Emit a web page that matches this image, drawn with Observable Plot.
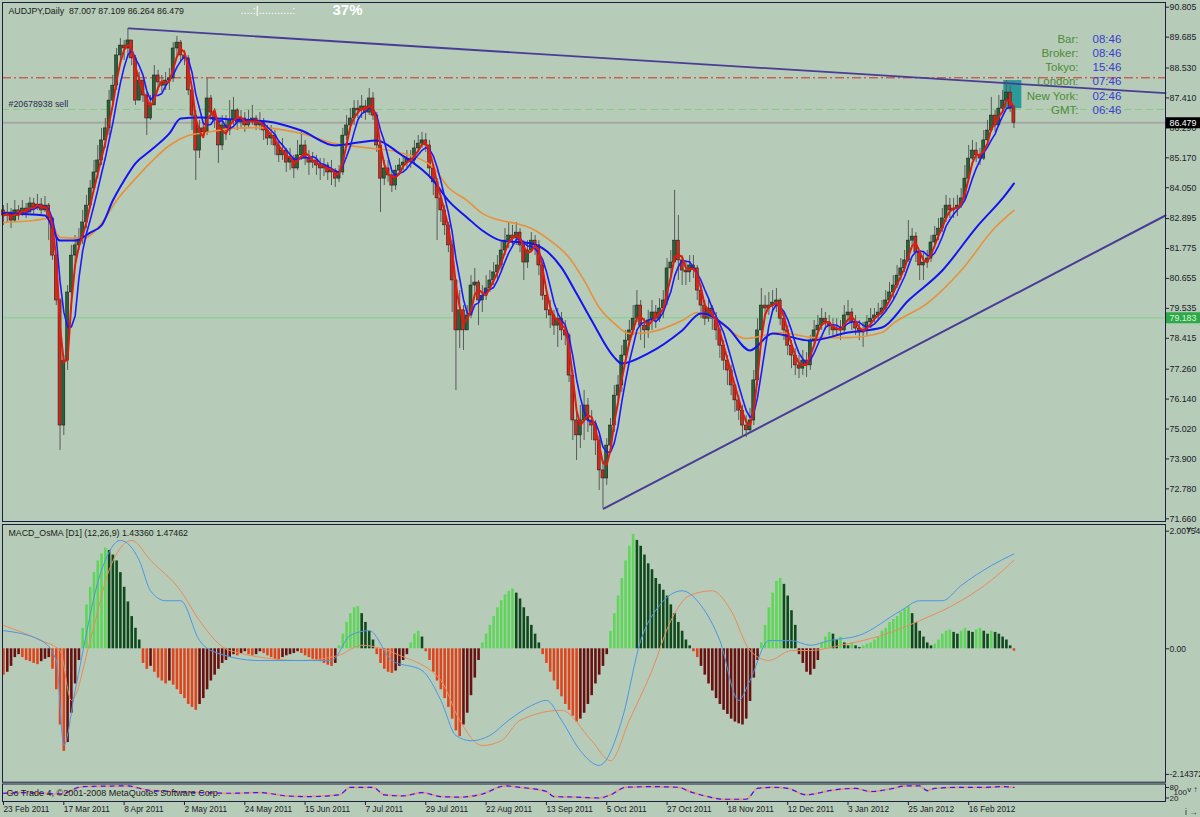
<!DOCTYPE html>
<html><head><meta charset="utf-8">
<script src="https://cdn.jsdelivr.net/npm/d3@7"></script>
<script src="https://cdn.jsdelivr.net/npm/@observablehq/plot@0.6"></script>
<style>
body{margin:0;background:#b6ccb8;}
#wrap{position:relative;width:1200px;height:817px;overflow:hidden;background:#b6ccb8;font-family:"Liberation Sans",Arial,sans-serif;}
#wrap svg{position:absolute;left:0;overflow:visible;}
</style></head><body><div id="wrap"></div>
<script>
// ---------- DATA ----------
const symbolTitle = "AUDJPY,Daily  87.007 87.109 86.264 86.479";
const progressDots = "....:|...........:";
const progressPct = "37%";
const firstOpen = 83.20;
const closes = [
83.01,83.12,82.82,83.20,83.05,83.27,83.12,83.46,83.31,83.42,
83.20,83.38,82.90,81.51,79.83,75.15,77.58,80.13,81.51,81.89,
82.15,82.75,83.38,84.02,84.62,85.07,85.82,86.27,87.31,87.87,
89.00,89.37,89.26,89.56,88.89,87.31,88.06,87.50,86.64,87.13,
88.25,87.99,87.87,88.06,88.14,89.26,89.48,89.00,88.89,87.69,
86.75,85.44,86.27,86.12,87.39,86.86,86.57,85.63,86.38,86.19,
86.57,86.94,86.49,86.64,86.38,86.57,86.64,86.38,86.49,86.19,
85.89,86.00,85.63,85.26,85.44,84.99,85.14,84.77,85.26,85.63,
85.14,84.99,85.07,84.88,84.77,84.88,84.62,84.69,84.39,84.62,
86.00,86.38,86.64,87.01,86.94,87.09,86.86,87.39,86.75,85.63,
84.39,84.77,84.51,84.13,84.69,84.88,84.99,85.14,85.07,85.52,
85.70,85.82,85.63,84.77,84.25,83.65,83.20,82.64,81.89,80.58,
78.71,79.46,78.71,79.27,80.39,80.50,79.83,80.01,80.28,80.58,
80.88,81.14,81.70,82.07,82.26,82.15,82.37,81.89,81.25,81.70,
82.07,81.89,81.14,80.01,79.46,79.27,78.89,79.15,78.71,78.52,
77.02,75.34,74.78,75.34,75.90,75.34,75.15,74.59,73.47,73.17,
74.40,75.15,76.27,76.65,77.77,78.33,78.71,79.15,79.64,78.89,
78.71,79.08,79.38,79.15,79.53,79.83,81.03,81.25,82.07,81.33,
80.95,80.88,81.14,81.03,80.20,79.64,79.15,79.53,79.15,78.71,
78.14,77.58,77.21,76.65,76.09,75.71,75.15,74.97,75.34,76.84,
78.71,79.64,79.53,79.64,79.75,79.83,79.15,78.71,78.14,77.77,
77.40,77.28,77.58,77.40,78.33,78.71,78.89,79.15,79.01,78.86,
78.71,78.78,78.71,79.27,79.38,79.01,78.78,78.63,78.71,79.01,
79.15,79.27,79.38,79.53,79.83,80.13,80.39,80.76,81.03,81.33,
82.07,82.22,81.62,81.14,81.25,81.40,82.00,82.26,82.52,82.90,
83.38,83.20,83.27,83.38,83.65,84.39,85.14,85.44,85.26,85.14,
85.82,86.19,86.75,86.38,87.01,87.31,87.61,87.007,86.479];
const highs = [
83.38,83.46,83.27,83.57,83.38,83.57,83.46,83.68,83.65,83.80,
83.65,83.72,83.46,82.90,81.51,79.90,77.77,80.39,81.89,82.26,
82.52,83.20,83.76,84.32,85.07,85.63,86.27,86.64,87.69,88.25,
89.26,89.63,89.56,90.01,89.48,89.00,88.36,88.06,87.61,87.50,
88.62,88.44,88.25,88.36,88.51,89.48,89.71,89.56,89.19,89.00,
87.76,86.94,86.57,86.49,88.14,87.50,87.01,86.38,86.75,86.75,
87.31,87.43,87.01,86.94,86.86,86.94,87.13,86.75,86.86,86.64,
86.38,86.38,86.19,85.82,85.89,85.52,85.52,85.26,85.82,86.12,
85.82,85.44,85.37,85.26,85.14,85.14,84.99,85.07,84.77,84.88,
86.27,86.75,87.01,87.31,87.31,87.50,87.31,87.76,87.61,86.86,
85.82,85.07,85.07,84.69,84.88,85.14,85.26,85.44,85.44,85.82,
86.00,86.12,86.08,85.82,84.88,84.39,83.76,83.38,82.75,82.07,
80.58,80.20,79.64,79.64,80.76,81.03,80.58,80.39,80.76,80.95,
81.25,81.51,82.07,82.52,82.75,82.64,82.75,82.52,82.07,82.07,
82.37,82.26,82.07,81.25,80.20,79.83,79.46,79.53,79.38,79.08,
78.59,77.21,75.71,75.90,76.46,76.16,75.71,75.34,74.78,73.84,
74.66,75.41,76.65,77.02,78.14,78.71,79.08,79.64,80.20,79.83,
79.15,79.46,79.83,79.64,79.90,80.20,81.40,81.70,83.95,83.01,
81.51,81.33,81.51,81.51,81.14,80.39,79.83,79.90,79.64,79.38,
78.78,78.33,77.77,77.40,76.65,76.27,75.90,75.52,75.79,77.21,
79.15,80.28,80.01,80.13,80.20,80.28,79.90,79.38,78.89,78.33,
78.03,77.77,77.96,77.88,78.52,79.08,79.27,79.53,79.38,79.27,
79.15,79.15,79.08,79.64,79.83,79.53,79.27,79.08,79.01,79.27,
79.53,79.53,79.72,79.83,80.20,80.50,80.76,81.14,81.40,81.70,
82.82,82.52,82.37,81.70,81.62,81.70,82.26,82.60,82.90,83.27,
83.76,83.65,83.65,83.76,84.02,84.88,85.63,85.82,85.74,85.52,
86.19,86.57,87.43,86.94,87.50,87.69,88.06,87.87,87.109];
const lows = [
82.64,82.75,82.52,82.75,82.82,82.97,82.90,83.12,83.05,83.20,
83.05,83.12,82.07,81.33,79.64,74.22,74.78,77.21,79.83,81.25,
81.70,81.92,82.52,83.27,83.95,84.39,84.88,85.52,86.00,87.13,
87.69,88.74,88.81,88.89,88.62,87.13,87.31,87.24,86.00,86.57,
87.13,87.69,87.61,87.69,87.69,87.99,89.00,88.74,88.62,87.50,
86.19,84.32,85.14,85.89,86.00,86.57,86.27,84.96,85.44,85.82,
86.00,86.38,86.19,86.27,86.12,86.27,86.38,86.19,86.19,85.82,
85.63,85.63,85.26,84.99,85.07,84.62,84.69,84.39,84.69,85.07,
84.88,84.51,84.77,84.51,84.32,84.47,84.32,84.13,84.06,84.25,
84.51,85.82,86.19,86.38,86.64,86.64,86.57,86.75,86.57,85.37,
83.12,84.13,84.25,83.87,83.95,84.51,84.69,84.77,84.77,84.88,
85.37,85.52,85.37,84.39,83.76,82.07,82.75,82.26,81.62,79.38,
76.46,78.03,77.96,78.78,79.15,80.01,78.89,79.38,79.83,80.13,
80.39,80.58,80.95,81.51,81.77,81.89,81.89,81.62,80.58,81.03,
81.70,81.51,80.76,79.83,79.15,78.78,78.52,78.07,78.33,78.14,
76.76,74.59,73.84,74.29,74.59,74.89,74.59,74.03,72.72,72.04,
72.91,74.22,74.89,76.09,76.39,77.58,78.14,78.52,79.01,78.33,
78.03,78.41,78.71,78.78,79.01,79.15,79.64,80.76,81.25,80.58,
80.39,80.39,80.50,80.65,79.83,79.15,78.89,79.01,78.71,78.33,
77.66,77.21,76.65,76.27,75.64,75.34,74.70,74.70,74.89,75.15,
76.65,78.52,79.27,79.27,79.38,79.38,78.89,78.33,77.77,77.28,
77.02,76.91,77.02,76.95,77.21,78.14,78.52,78.71,78.71,78.52,
78.41,78.48,78.33,78.63,79.01,78.71,78.52,78.33,78.07,78.52,
78.78,79.01,79.08,79.23,79.38,79.75,79.90,80.28,80.58,80.88,
81.25,81.89,81.25,80.58,80.58,81.03,81.25,81.89,82.07,82.37,
82.75,82.90,82.90,82.97,83.27,83.57,84.32,85.07,84.99,84.88,
85.07,85.63,86.12,86.12,86.38,86.86,87.24,86.86,86.264];

// slow moving averages (bar index, price)
const slowBlueBars = [0,11,15,19,23,26,29,32,35,39,44,47,52,61,70,79,88,94,99,105,114,118,123,127,132,140,148,152,156,162,164,171,180,185,192,198,204,214,224,233,240,249,258,266,268];
const slowBlue = [83.09,83.01,82.07,82.07,82.37,82.64,83.57,84.32,84.96,85.44,86.08,86.64,86.68,86.60,86.53,86.19,85.63,85.74,85.82,85.33,84.32,83.57,82.93,82.45,82.07,81.96,81.06,80.09,79.08,77.70,77.47,77.85,78.71,79.34,78.82,77.96,78.59,78.33,78.63,78.82,79.83,80.95,82.56,83.83,84.21];
const orangeBars = [0,8,12,15,21,26,30,35,39,44,49,54,61,68,79,88,96,105,114,118,123,127,132,136,140,145,150,154,158,162,166,171,180,184,188,197,206,215,224,233,236,245,254,263,268];
const orangeMA = [82.75,82.82,82.90,82.19,82.15,82.71,83.57,84.39,84.99,85.63,86.00,86.12,86.27,86.30,86.08,85.70,85.55,85.37,84.81,84.06,83.57,83.09,82.82,82.71,82.52,82.07,81.44,80.58,79.57,78.97,78.59,78.63,79.08,79.38,79.19,78.41,78.63,78.44,78.44,78.63,78.97,79.72,80.95,82.56,83.20];

const priceTicks = [90.805,89.685,88.530,87.410,86.290,85.170,84.050,82.895,81.775,80.655,79.535,78.415,77.260,76.140,75.020,73.900,72.780,71.660];
const alertLevel = 88.163;
const orderPrice = 86.98;
const orderLabel = "#20678938 sell";
const bidPrice = 86.479;
const levelLine = 79.183;
const upperTrend = [{i: 33.2, p: 90.01}, {i: 308.2, p: 87.59}];
const lowerTrend = [{i: 159.2, p: 72.04}, {i: 308.2, p: 83.01}];
const highlightBox = [{i1: 265.3, i2: 270.1, p1: 87.01, p2: 88.06}];
const sessionNames = ["Bar:", "Broker:", "Tokyo:", "London:", "New York:", "GMT:"];
const sessionTimes = ["08:46", "08:46", "15:46", "07:46", "02:46", "06:46"];

const macdTitle = "MACD_OsMA [D1] (12,26,9) 1.43360 1.47462";
const macdTicks = [2.00754, 0, -2.14372];
const osma = [
-0.45,-0.4,-0.3,-0.15,-0.1,-0.15,-0.2,-0.22,-0.25,-0.27,
-0.22,-0.18,-0.15,-0.35,-0.7,-1.3,-1.75,-1.6,-1.1,-0.6,
-0.2,0.35,0.75,1.05,1.3,1.5,1.62,1.72,1.68,1.6,
1.5,1.3,1.05,0.8,0.55,0.35,0.15,-0.25,-0.35,-0.3,
-0.4,-0.5,-0.55,-0.6,-0.55,-0.62,-0.7,-0.78,-0.85,-0.95,
-1.0,-1.05,-0.95,-0.85,-0.7,-0.55,-0.45,-0.35,-0.25,-0.2,
-0.15,-0.1,-0.12,-0.08,-0.05,-0.1,-0.12,-0.1,-0.05,-0.08,
-0.12,-0.15,-0.18,-0.2,-0.15,-0.12,-0.1,-0.08,-0.05,-0.08,
-0.12,-0.15,-0.18,-0.2,-0.22,-0.25,-0.28,-0.3,-0.25,0.05,
0.25,0.45,0.6,0.7,0.72,0.6,0.45,0.3,0.15,-0.1,
-0.25,-0.35,-0.4,-0.42,-0.38,-0.3,-0.2,-0.1,0.1,0.25,
0.3,0.2,-0.05,-0.2,-0.4,-0.55,-0.7,-0.85,-1.0,-1.2,
-1.4,-1.5,-1.3,-1.1,-0.8,-0.5,-0.2,0.1,0.25,0.4,
0.55,0.7,0.82,0.92,0.98,1.02,0.95,0.85,0.7,0.55,
0.4,0.25,0.1,-0.1,-0.25,-0.4,-0.55,-0.7,-0.82,-0.95,
-1.05,-1.15,-1.25,-1.2,-1.1,-0.95,-0.8,-0.6,-0.45,-0.3,
-0.1,0.3,0.6,0.9,1.2,1.5,1.75,1.95,1.85,1.75,
1.6,1.45,1.35,1.2,1.1,1.0,0.9,0.75,0.6,0.45,
0.3,0.15,0.05,-0.05,-0.15,-0.3,-0.45,-0.6,-0.72,-0.85,
-0.95,-1.05,-1.12,-1.2,-1.25,-1.28,-1.3,-1.2,-0.9,-0.5,
-0.2,0.1,0.4,0.7,0.95,1.15,1.2,1.1,0.9,0.65,
0.4,-0.1,-0.25,-0.4,-0.45,-0.35,-0.2,0.1,0.2,0.28,
0.25,0.15,0.2,0.1,0.05,0.1,0.05,0.02,0.05,0.08,
0.1,0.15,0.2,0.3,0.35,0.45,0.5,0.55,0.62,0.68,
0.72,0.6,0.45,0.3,0.2,0.1,0.05,0.08,0.15,0.25,
0.3,0.32,0.28,0.25,0.3,0.35,0.3,0.28,0.32,0.35,
0.3,0.25,0.3,0.28,0.25,0.2,0.15,0.05,-0.04];
// bars whose negative histogram is drawn in maroon in the reference
const osmaMaroonBars = [185,186,187,188,189,190,191,192,193,194,195,196,197,198,199,211,212,213,214,215,216];
const osmaClasses = ["rising positive", "falling positive", "falling negative", "rising negative"];
const osmaColors = ["#5fd65a", "#0f4a1c", "#e0441c", "#6a1010"];
const macdBars = [0,10,14,16,19,26,31,36,39,43,47,52,55,68,79,87,92,97,103,111,116,120,124,129,134,140,144,148,153,158,164,169,174,180,185,190,195,198,203,209,214,219,227,238,243,249,254,262,268];
const macdLine = [0.31,0.14,-0.2,-1.65,-0.71,1.34,1.85,1.51,0.99,0.82,0.82,0.14,-0.03,-0.2,-0.2,-0.2,0.23,0.31,-0.2,-0.37,-0.88,-1.48,-1.57,-1.48,-1.22,-0.97,-0.88,-1.22,-1.74,-1.99,-1.22,0.14,0.74,0.99,0.74,0.14,-0.88,-0.54,0.14,0.14,0.06,0.14,0.23,0.65,0.82,0.82,1.08,1.42,1.62];
const signalBars = [0,10,15,18,23,28,34,39,47,52,60,79,89,95,105,116,121,127,132,137,148,156,161,166,172,177,182,188,193,198,203,209,214,222,233,243,254,262,268];
const signalLine = [0.40,0.14,-0.03,-0.88,0.14,1.34,1.85,1.51,0.99,0.48,-0.03,-0.2,-0.11,0.06,-0.11,-0.54,-1.22,-1.65,-1.57,-1.22,-1.05,-1.57,-1.91,-1.22,-0.37,0.48,0.91,0.99,0.65,-0.03,-0.2,-0.03,-0.03,0.06,0.23,0.48,0.82,1.17,1.51];

const oscTitle = "Go Trade 4, \u00a92001-2008 MetaQuotes Software Corp.";
const oscBars = [0,5,15,21,33,38,45,52,60,68,75,81,89,92,98,101,106,111,116,121,127,133,137,144,146,152,158,161,165,172,179,182,186,191,197,200,204,208,213,215,219,226,230,236,239,243,245,247,254,260,265,268];
const oscVals = [47,51,43,85,89,66,57,51,47,51,32,28,38,81,81,38,32,51,28,25,43,89,81,57,28,25,20,38,81,85,81,57,32,13,13,75,81,75,38,43,62,75,57,75,89,89,62,75,81,81,85,81];
const oscTicks = [80, 20];
const oscMidLabel = "100";

const dateTicks = [0,16,32,48,64,80,96,112,128,144,160,176,192,208,224,240,256];
const dateLabels = ["23 Feb 2011","17 Mar 2011","8 Apr 2011","2 May 2011","24 May 2011","15 Jun 2011","7 Jul 2011","29 Jul 2011","22 Aug 2011","13 Sep 2011","5 Oct 2011","27 Oct 2011","18 Nov 2011","12 Dec 2011","3 Jan 2012","25 Jan 2012","16 Feb 2012"];

// ---------- BUILD ----------
const frameColor = "#1e1e40";
const font = "Liberation Sans, Arial, sans-serif";
const axisFont = 8.8;
const xDomain = [-0.265, 308.2];
const pxPerBar = (1165 - 2) / (xDomain[1] - xDomain[0]);

const candles = closes.map((c, i) => {
  const o = i === 0 ? firstOpen : closes[i - 1];
  return {i, o, c, h: Math.max(highs[i], o, c), l: Math.min(lows[i], o, c), up: c >= o};
});
const slowBlueData = slowBlueBars.map((b, k) => ({i: b, p: slowBlue[k]}));
const orangeData = orangeBars.map((b, k) => ({i: b, p: orangeMA[k]}));

const baseStyle = {background: "transparent", fontFamily: font, fontSize: "9px", color: "#1a1a2a", overflow: "visible"};

const pricePlot = Plot.plot({
  width: 1200, height: 522, marginLeft: 2, marginRight: 35, marginTop: 2, marginBottom: 1,
  style: baseStyle,
  x: {domain: xDomain, axis: null},
  y: {domain: [71.559, 90.981]},
  marks: [
    Plot.ruleY([levelLine], {stroke: "#8fcf9a", strokeWidth: 1.5}),
    Plot.ruleY([alertLevel], {stroke: "#d0301e", strokeWidth: 1, strokeDasharray: "9,3,2,3"}),
    Plot.ruleY([orderPrice], {stroke: "#7fcf7f", strokeWidth: 1, strokeDasharray: "7,4"}),
    Plot.ruleY([bidPrice], {stroke: "#a4a8a4", strokeWidth: 2}),
    Plot.rect(highlightBox, {x1: "i1", x2: "i2", y1: "p1", y2: "p2", fill: "#2b9a9a"}),
    Plot.line(upperTrend, {x: "i", y: "p", stroke: "#4a3b96", strokeWidth: 1.8}),
    Plot.line(lowerTrend, {x: "i", y: "p", stroke: "#4a3b96", strokeWidth: 2}),
    Plot.ruleX(candles, {x: "i", y1: "l", y2: "h", stroke: "#5a5a5a", strokeWidth: 1}),
    Plot.rect(candles, {x1: d => d.i - 0.4, x2: d => d.i + 0.4, y1: "o", y2: "c",
      fill: d => d.up ? "#2a6238" : "#d02a1a", stroke: "#151515", strokeWidth: 0.5}),
    Plot.line(orangeData, {x: "i", y: "p", stroke: "#e8903c", strokeWidth: 1.6, curve: "monotone-x"}),
    Plot.line(slowBlueData, {x: "i", y: "p", stroke: "#1414f0", strokeWidth: 2, curve: "monotone-x"}),
    Plot.lineY(candles, Plot.windowY({k: 5, anchor: "end"}, {x: "i", y: "c", stroke: "#1a1aff", strokeWidth: 1.6})),
    Plot.lineY(candles, Plot.windowY({k: 3, anchor: "end"}, {x: "i", y: "c", stroke: "#e01b10", strokeWidth: 2})),
    Plot.axisY({anchor: "right", ticks: priceTicks, tickFormat: d => d.toFixed(3), tickSize: 3, tickPadding: 1, fontSize: axisFont, stroke: frameColor, fill: "#1a1a2a"}),
    Plot.ruleY([bidPrice], {x1: xDomain[1], x2: xDomain[1] + 36 / pxPerBar, stroke: "#000", strokeWidth: 11}),
    Plot.text([bidPrice], {y: d => d, text: d => d.toFixed(3), frameAnchor: "right", dx: 4, textAnchor: "start", fill: "#fff", fontSize: axisFont}),
    Plot.ruleY([levelLine], {x1: xDomain[1], x2: xDomain[1] + 36 / pxPerBar, stroke: "#2fa84a", strokeWidth: 11}),
    Plot.text([levelLine], {y: d => d, text: d => d.toFixed(3), frameAnchor: "right", dx: 4, textAnchor: "start", fill: "#d8f8d8", fontSize: axisFont}),
    Plot.text([{p: orderPrice, t: orderLabel}], {y: "p", text: "t", frameAnchor: "left", dx: 6, dy: -5, textAnchor: "start", fill: "#2a2a50", fontSize: 8.8}),
    Plot.text([symbolTitle], {frameAnchor: "top-left", dx: 6, dy: 5, lineAnchor: "top", textAnchor: "start", fontSize: 8.8, fill: "#1a1a1a"}),
    Plot.text([progressDots], {frameAnchor: "top-left", dx: 238, dy: 4, lineAnchor: "top", textAnchor: "start", fontSize: 11, fill: "#ffffff"}),
    Plot.text([progressPct], {frameAnchor: "top-left", dx: 330, dy: 2, lineAnchor: "top", textAnchor: "start", fontSize: 15, fontWeight: "bold", fill: "#ffffff"}),
    Plot.text([sessionNames.join("\n")], {frameAnchor: "top-right", dx: -87, dy: 30, lineAnchor: "top", textAnchor: "end", fontSize: 11.5, lineHeight: 1.24, fill: "#4f8a36"}),
    Plot.text([sessionTimes.join("\n")], {frameAnchor: "top-right", dx: -73, dy: 30, lineAnchor: "top", textAnchor: "start", fontSize: 11.5, lineHeight: 1.24, fill: "#3b3bd0"}),
    Plot.frame({stroke: frameColor})
  ]
});

const osmaData = osma.map((v, i) => {
  const prev = i === 0 ? v : osma[i - 1];
  let cls;
  if (v >= 0) cls = v >= prev ? osmaClasses[0] : osmaClasses[1];
  else cls = (v > prev || osmaMaroonBars.includes(i)) ? osmaClasses[3] : osmaClasses[2];
  return {i, v, cls};
});
const macdData = macdBars.map((b, k) => ({i: b, v: macdLine[k]}));
const signalData = signalBars.map((b, k) => ({i: b, v: signalLine[k]}));

const macdPlot = Plot.plot({
  width: 1200, height: 261, marginLeft: 2, marginRight: 35, marginTop: 2, marginBottom: 1.3,
  style: baseStyle,
  x: {domain: xDomain, axis: null},
  y: {domain: [-2.277, 2.1217]},
  color: {domain: osmaClasses, range: osmaColors},
  marks: [
    Plot.ruleX(osmaData, {x: "i", y1: 0, y2: "v", stroke: "cls", strokeWidth: 2.6}),
    Plot.line(signalData, {x: "i", y: "v", stroke: "#ec8a5a", strokeWidth: 1, curve: "monotone-x"}),
    Plot.line(macdData, {x: "i", y: "v", stroke: "#4c96e6", strokeWidth: 1, curve: "monotone-x"}),
    Plot.axisY({anchor: "right", ticks: macdTicks, tickFormat: v => v === 0 ? "0.00" : String(v), tickSize: 3, tickPadding: 1, fontSize: 8.5, stroke: frameColor, fill: "#1a1a2a"}),
    Plot.text([macdTitle], {frameAnchor: "top-left", dx: 6, dy: 5, lineAnchor: "top", textAnchor: "start", fontSize: 8.8, fill: "#1a1a1a"}),
    Plot.frame({stroke: frameColor})
  ]
});

const oscData = oscBars.map((b, k) => ({i: b, v: oscVals[k]}));
const oscPlot = Plot.plot({
  width: 1200, height: 34, marginLeft: 2, marginRight: 35, marginTop: 0.5, marginBottom: 16,
  style: baseStyle,
  x: {domain: xDomain},
  y: {domain: [0, 100]},
  marks: [
    Plot.line(oscData, {x: "i", y: "v", stroke: "#e89a8a", strokeWidth: 2, curve: "monotone-x"}),
    Plot.line(oscData, {x: "i", y: "v", stroke: "#2020ff", strokeWidth: 1.2, strokeDasharray: "4,5", curve: "monotone-x"}),
    Plot.text([oscTitle], {frameAnchor: "left", dx: 4, textAnchor: "start", fontSize: 9, fill: "#202020"}),
    Plot.axisY({anchor: "right", ticks: oscTicks, tickSize: 3, tickPadding: 1, fontSize: 8, stroke: frameColor, fill: "#1a1a2a"}),
    Plot.text([oscMidLabel], {frameAnchor: "right", dx: 8, textAnchor: "start", fontSize: 8, fill: "#1a1a2a"}),
    Plot.axisX({anchor: "bottom", ticks: dateTicks, tickFormat: i => dateLabels[i / 16], tickSize: 4, tickPadding: 1, textAnchor: "start", dx: 0, fontSize: 8.3, stroke: frameColor, fill: "#1a1a2a"}),
    Plot.frame({stroke: frameColor})
  ]
});

const wrap = document.getElementById("wrap");
[[pricePlot, 0], [macdPlot, 522], [oscPlot, 783]].forEach(([el, top]) => {
  el.style.top = top + "px";
  el.style.position = "absolute";
  wrap.appendChild(el);
});
</script></body></html>
